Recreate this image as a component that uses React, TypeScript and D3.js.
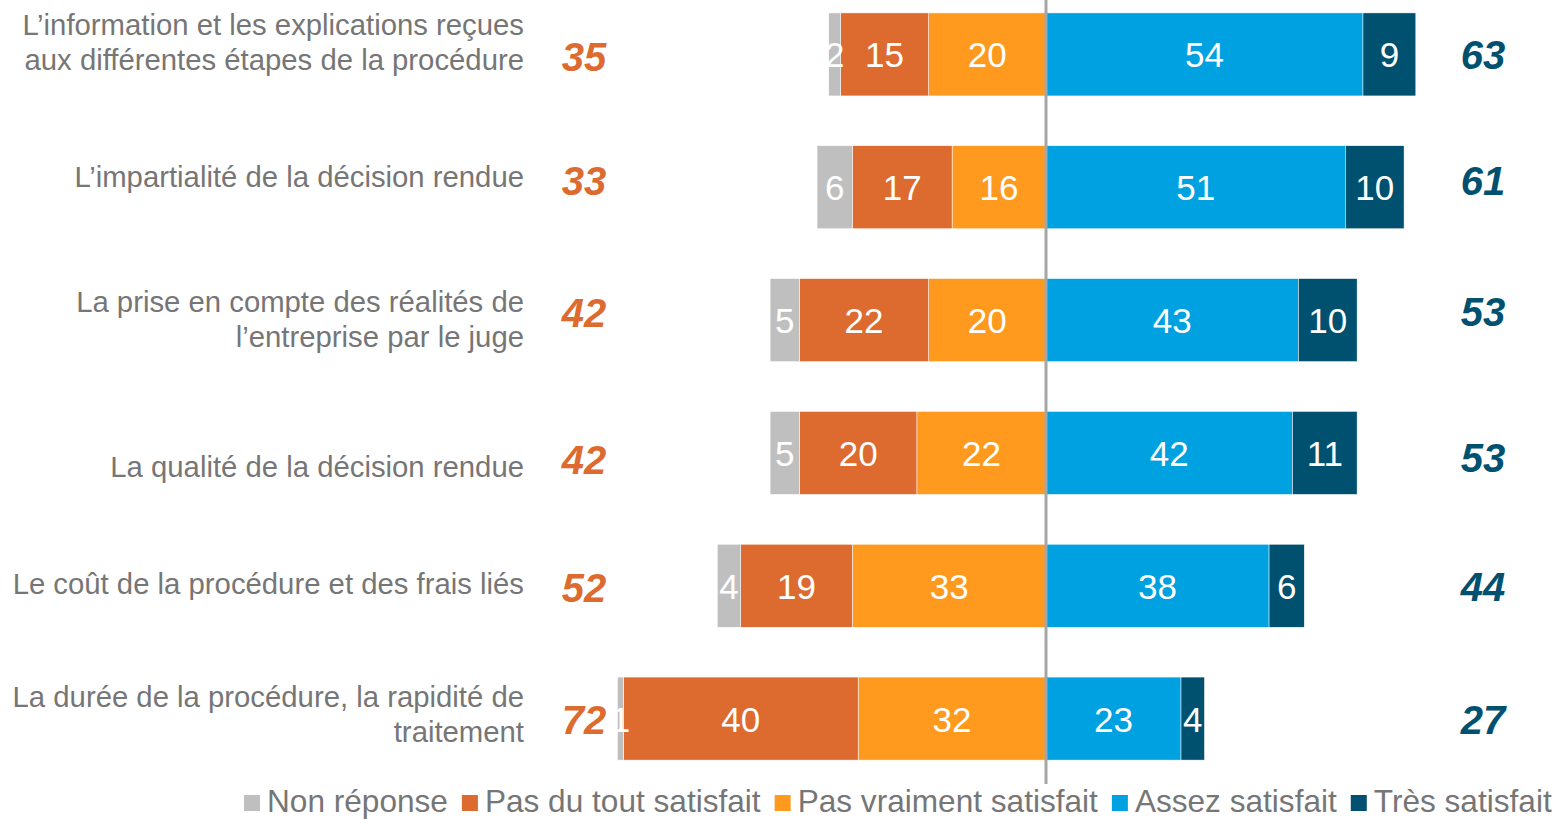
import React from "react";
import * as d3 from "d3";

const categories: string[][] = [
  ["L’information et les explications reçues", "aux différentes étapes de la procédure"],
  ["L’impartialité de la décision rendue"],
  ["La prise en compte des réalités de", "l’entreprise par le juge"],
  ["La qualité de la décision rendue"],
  ["Le coût de la procédure et des frais liés"],
  ["La durée de la procédure, la rapidité de", "traitement"],
];

const nonReponse = [2, 6, 5, 5, 4, 1];
const pasDuTout = [15, 17, 22, 20, 19, 40];
const pasVraiment = [20, 16, 20, 22, 33, 32];
const assez = [54, 51, 43, 42, 38, 23];
const tres = [9, 10, 10, 11, 6, 4];
const totalNeg = [35, 33, 42, 42, 52, 72];
const totalPos = [63, 61, 53, 53, 44, 27];

const seriesNames = ["Non réponse", "Pas du tout satisfait", "Pas vraiment satisfait", "Assez satisfait", "Très satisfait"];

// layout tweaks (label offsets relative to band centre, as in the original slide)
const labelDy = [-19.5, 0, -8, 24.5, 8.5, -12];
const totalNegDy = [2.5, -6.5, -7, 6.5, 1.5, 1];
const totalPosDy = [0.5, -7, -8, 4.5, 0.5, 1];

const COLORS = {
  nr: "#BFBFBF",
  pdt: "#DD6B2F",
  pv: "#FF9A1E",
  as: "#00A1E0",
  ts: "#00506F",
};
const legendColors = [COLORS.nr, COLORS.pdt, COLORS.pv, COLORS.as, COLORS.ts];

const FONT = "'Liberation Sans', Arial, sans-serif";
const W = 1566;
const H = 819;
const CENTER = 1046;
const PX_PER_UNIT = 5.87;
const LEGEND_SIZE = 31.6;

function measure(text: string, font: string): number {
  if (typeof document === "undefined") return text.length * 15;
  const c = document.createElement("canvas");
  const ctx = c.getContext("2d")!;
  ctx.font = font;
  return ctx.measureText(text).width;
}

export default function App() {
  const x = d3
    .scaleLinear()
    .domain([-80, 80])
    .range([CENTER - 80 * PX_PER_UNIT, CENTER + 80 * PX_PER_UNIT]);
  const idx = categories.map((_, i) => String(i));
  const y = d3.scaleBand<string>().domain(idx).range([-12, 785]).paddingInner(0.375).paddingOuter(0.1875);
  const bw = y.bandwidth();

  const rows = categories.map((lines, i) => {
    const negSegs = [
      { v: pasVraiment[i], c: COLORS.pv },
      { v: pasDuTout[i], c: COLORS.pdt },
      { v: nonReponse[i], c: COLORS.nr },
    ];
    const posSegs = [
      { v: assez[i], c: COLORS.as },
      { v: tres[i], c: COLORS.ts },
    ];
    const segs: { x0: number; x1: number; c: string; v: number }[] = [];
    let acc = 0;
    negSegs.forEach((s) => {
      segs.push({ x0: x(-(acc + s.v)), x1: x(-acc), c: s.c, v: s.v });
      acc += s.v;
    });
    acc = 0;
    posSegs.forEach((s) => {
      segs.push({ x0: x(acc), x1: x(acc + s.v), c: s.c, v: s.v });
      acc += s.v;
    });
    return { lines, segs, i };
  });

  const legendFont = `${LEGEND_SIZE}px ${FONT}`;
  let lx = 244;
  const legendItems = seriesNames.map((name, i) => {
    const item = { name, x: lx, c: legendColors[i] };
    lx += 16 + 7 + measure(name, legendFont) + 14;
    return item;
  });

  return (
    <svg width={W} height={H} style={{ position: "absolute", left: 0, top: 0, background: "#fff" }} fontFamily={FONT}>
      {rows.map(({ lines, segs, i }) => {
        const top = y(String(i))!;
        const cy = top + bw / 2;
        return (
          <g key={i}>
            {segs.map((s, k) => (
              <rect key={k} x={s.x0} y={top} width={s.x1 - s.x0} height={bw} fill={s.c} stroke="#fff" strokeWidth={0.5} />
            ))}
            {segs.map((s, k) => (
              <text key={"t" + k} x={(s.x0 + s.x1) / 2} y={cy + 13} textAnchor="middle" fill="#fff" fontSize={35}>
                {s.v}
              </text>
            ))}
            {lines.map((ln, k) => (
              <text key={"l" + k} x={524} y={cy + labelDy[i] + k * 35} textAnchor="end" fill="#767676" fontSize={29.3}>
                {ln}
              </text>
            ))}
            <text x={584} y={cy + totalNegDy[i] + 14.3} textAnchor="middle" fill={COLORS.pdt} fontSize={40} fontWeight="bold" fontStyle="italic">
              {totalNeg[i]}
            </text>
            <text x={1483} y={cy + totalPosDy[i] + 14.3} textAnchor="middle" fill={COLORS.ts} fontSize={40} fontWeight="bold" fontStyle="italic">
              {totalPos[i]}
            </text>
          </g>
        );
      })}
      <line x1={CENTER} x2={CENTER} y1={0} y2={784} stroke="#A6A6A6" strokeWidth={3} />
      {legendItems.map((it, i) => (
        <g key={i}>
          <rect x={it.x} y={795} width={16} height={16} fill={it.c} />
          <text x={it.x + 23} y={812} fill="#767676" fontSize={LEGEND_SIZE}>
            {it.name}
          </text>
        </g>
      ))}
    </svg>
  );
}
